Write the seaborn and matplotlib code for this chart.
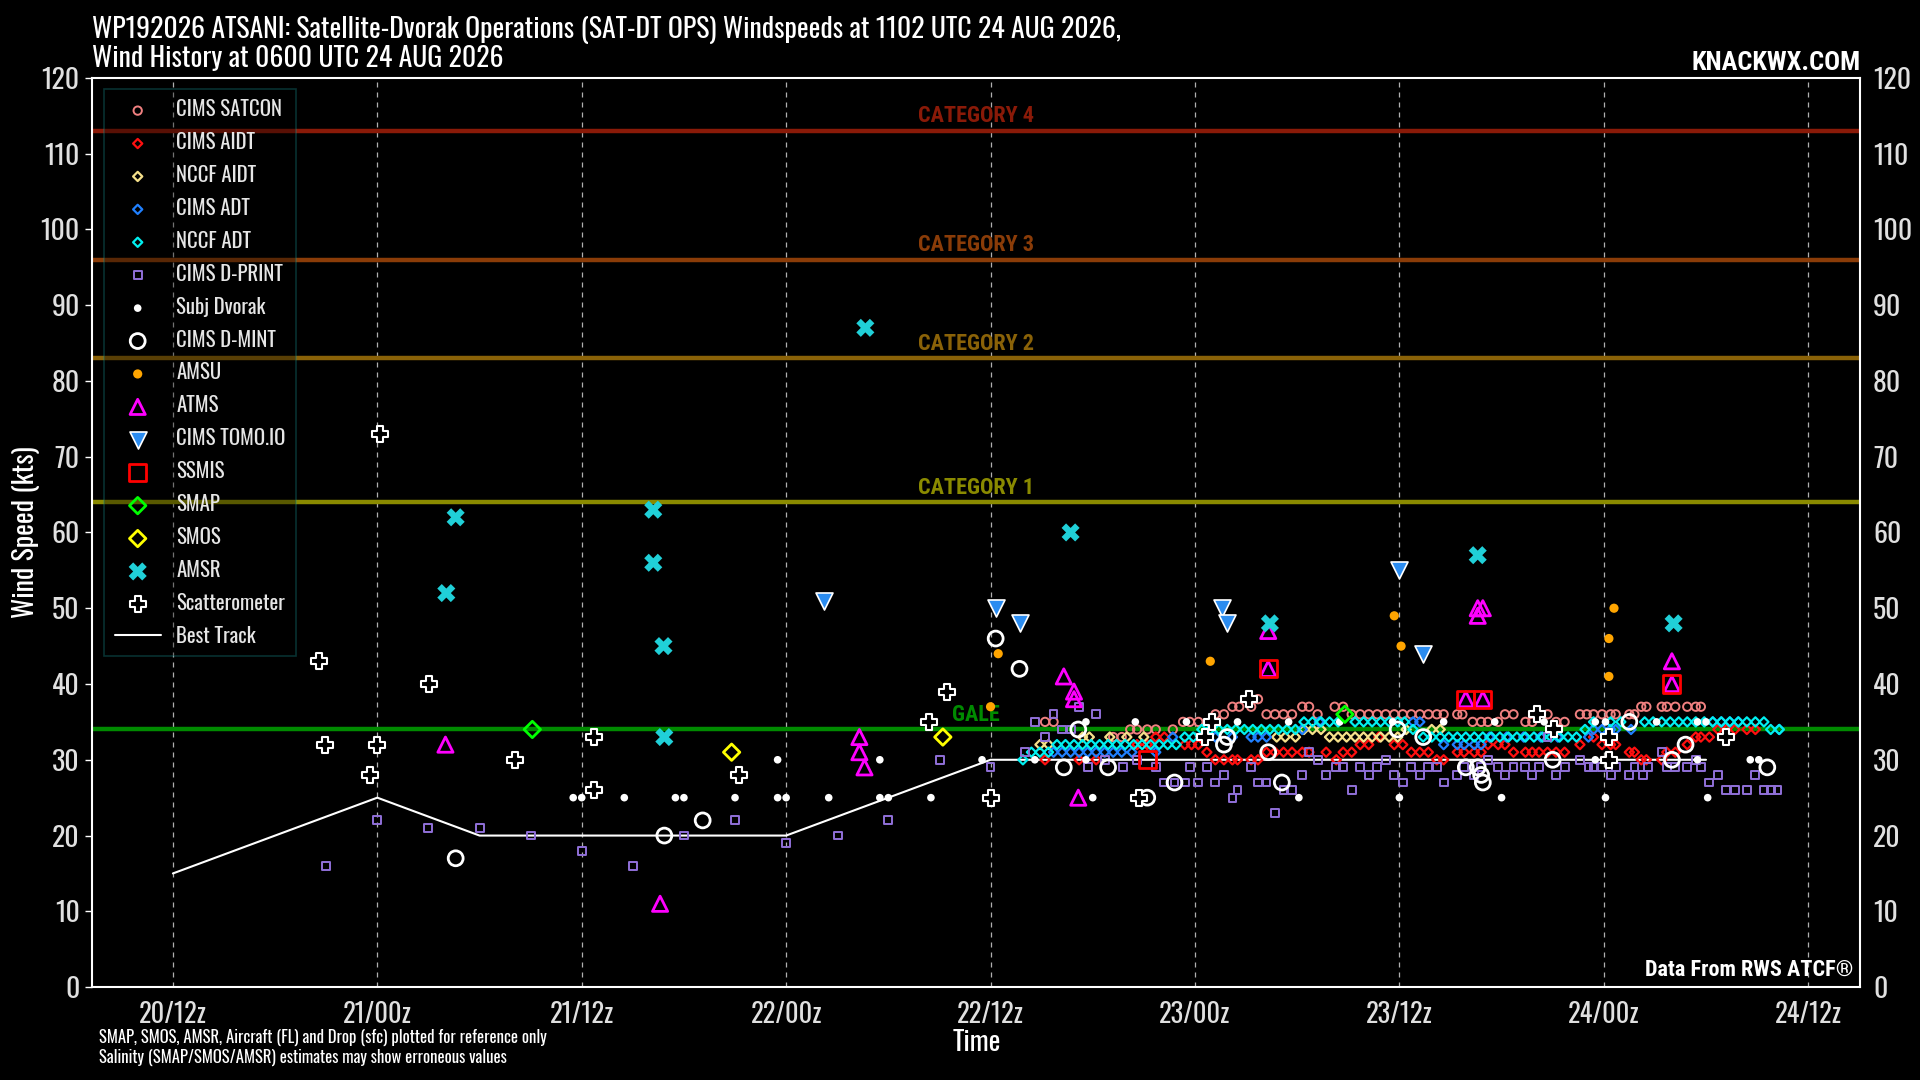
import numpy as np
import pandas as pd
import matplotlib
matplotlib.use("Agg")
import matplotlib.pyplot as plt
import matplotlib.dates as mdates
import matplotlib.transforms as mtransforms
from matplotlib import font_manager as fm
import seaborn as sns

# ---------------- DATA (hours after 20 AUG 2026 12Z, wind kt) ----------------
BASE = "2026-08-20 12:00"

satcon_t = [51.2, 51.7, 55.2, 55.7, 56.2, 56.6, 57.2, 57.7, 58.7, 59.3, 59.7, 60.2, 61.2, 61.7, 62.2, 62.6,
            63.3, 63.7, 64.2, 64.7, 65.2, 65.7, 66.3, 66.7, 67.2, 68.2, 68.7, 69.2, 69.7, 70.2, 70.7, 71.2,
            71.7, 72.2, 72.7, 73.2, 73.7, 74.2, 74.6, 75.4, 75.7, 76.3, 76.8, 77.2, 77.8, 78.2, 78.7, 79.4,
            79.8, 80.7, 81.2, 81.7, 82.6, 83.0, 83.4, 83.9, 84.4, 84.7, 85.5, 85.8, 86.2, 86.5, 87.4, 87.7,
            88.2, 88.9, 89.4, 89.7]
satcon_v = [35, 35, 33, 33, 34, 34, 34, 34, 34, 35, 35, 35, 36, 36, 37, 37,
            37, 38, 36, 36, 36, 36, 37, 37, 36, 37, 37, 36, 36, 36, 36, 36,
            36, 36, 36, 36, 36, 36, 36, 36, 36, 35, 35, 35, 35, 36, 36, 35,
            35, 36, 35, 35, 36, 36, 36, 36, 36, 36, 36, 36, 37, 37, 37, 37,
            37, 37, 37, 37]

cims_aidt_t = [51.2, 53.2, 54.2, 56.6, 57.2, 57.7, 58.2, 59.4, 59.8, 60.2, 60.7, 61.2, 61.7, 62.2, 62.5, 63.3,
               63.7, 64.2, 64.7, 65.2, 65.7, 66.3, 66.7, 67.7, 68.3, 68.7, 69.2, 69.7, 70.2, 70.8, 71.7, 72.2,
               72.7, 73.2, 73.7, 74.2, 74.6, 75.4, 75.8, 76.4, 76.8, 77.2, 77.8, 78.2, 78.7, 79.4, 79.8, 80.2,
               80.7, 81.2, 81.7, 82.6, 83.4, 83.9, 84.4, 84.7, 85.5, 85.8, 86.2, 86.5, 87.4, 87.7, 88.2, 88.9,
               89.4, 89.7, 90.2, 90.7, 91.2, 91.7, 92.4, 92.9]
cims_aidt_v = [30, 30, 30, 32, 32, 33, 33, 32, 32, 32, 31, 30, 30, 30, 30, 30,
               30, 31, 31, 31, 31, 31, 31, 31, 30, 31, 31, 32, 32, 33, 32, 32,
               31, 31, 31, 30, 30, 31, 31, 31, 31, 32, 32, 32, 31, 31, 31, 31,
               31, 31, 31, 32, 33, 32, 32, 32, 31, 31, 30, 30, 30, 31, 31, 32,
               33, 33, 33, 34, 34, 34, 34, 34]

nccf_aidt_t = [50.9, 51.4, 53.4, 53.8, 55.0, 56.0, 57.0, 64.8, 65.3, 65.9, 66.4, 66.9, 67.4, 67.9, 68.4, 68.9,
               69.4, 69.9, 70.4, 70.9, 71.4, 71.9, 72.4, 73.9, 74.4]
nccf_aidt_v = [32, 32, 33, 33, 33, 33, 33, 33, 33, 33, 34, 34, 34, 33, 33, 33,
               33, 33, 33, 33, 33, 33, 34, 34, 34]

cims_adt_t = [51.7, 52.2, 52.7, 53.2, 53.7, 54.2, 54.7, 55.2, 55.7, 56.3, 57.7, 58.7, 61.2, 62.2, 63.3, 63.7,
              64.2, 66.3, 67.3, 72.8, 73.2, 74.6, 75.4, 75.8, 76.4, 76.8, 77.3, 78.3, 79.3, 80.3, 81.3, 83.1,
              83.4, 83.9, 84.4, 84.7, 85.6, 90.4, 90.9, 91.4, 91.9, 94.3]
cims_adt_v = [31, 31, 31, 31, 31, 31, 31, 31, 31, 31, 31, 33, 33, 33, 33, 33,
              33, 34, 35, 35, 35, 32, 32, 32, 32, 32, 33, 33, 33, 33, 33, 33,
              34, 34, 34, 34, 34, 35, 35, 35, 35, 34]

nccf_adt_t = [49.9, 50.4, 50.9, 51.4, 51.9, 52.4, 52.9, 53.4, 53.9, 54.4, 54.9, 55.4, 55.9, 56.4, 56.9, 57.4,
              57.9, 58.4, 58.9, 59.4, 59.9, 60.4, 60.9, 61.4, 61.9, 62.4, 62.9, 63.4, 63.9, 64.4, 64.9, 65.4,
              65.9, 66.4, 66.9, 67.4, 67.9, 68.4, 69.4, 69.9, 70.4, 70.9, 71.4, 71.9, 72.3, 72.8, 73.4, 73.9,
              74.4, 74.9, 75.4, 75.9, 76.4, 76.9, 77.4, 77.9, 78.4, 78.9, 79.4, 79.9, 80.4, 80.9, 81.4, 81.9,
              82.4, 82.9, 83.4, 84.4, 85.0, 86.4, 86.9, 87.4, 87.9, 88.4, 88.9, 89.4, 89.9, 90.4, 90.9, 91.4,
              91.9, 92.4, 92.9, 93.4, 93.8, 94.3]
nccf_adt_v = [30, 31, 31, 31, 32, 32, 32, 32, 32, 32, 32, 32, 32, 32, 32, 32,
              32, 32, 32, 33, 33, 34, 34, 34, 34, 34, 34, 34, 34, 34, 34, 34,
              34, 35, 35, 35, 35, 35, 35, 35, 35, 35, 35, 35, 35, 34, 33, 33,
              33, 33, 33, 33, 33, 33, 33, 33, 33, 33, 33, 33, 33, 33, 33, 33,
              33, 34, 35, 35, 35, 35, 35, 35, 35, 35, 35, 35, 35, 35, 35, 35,
              35, 35, 35, 35, 34, 34]

dprint_t = [9.0, 12.0, 15.0, 18.05, 21.0, 24.0, 27.0, 30.0, 33.0, 36.0, 39.05, 42.0, 45.05, 48.0, 50.0, 50.6,
            51.2, 51.7, 52.2, 52.7, 53.2, 53.7, 54.2, 54.7, 55.8, 56.6, 57.7, 58.2, 58.8, 59.4, 59.7, 60.2,
            60.7, 61.2, 61.7, 62.2, 62.5, 63.3, 63.7, 64.2, 64.7, 65.2, 65.7, 66.3, 66.7, 67.2, 67.7, 68.3,
            68.7, 69.2, 69.7, 70.2, 70.7, 71.2, 71.7, 72.2, 72.7, 73.2, 73.7, 74.2, 74.6, 75.4, 75.8, 76.4,
            76.8, 77.2, 77.8, 78.2, 78.7, 79.4, 79.8, 80.2, 80.7, 81.2, 81.7, 82.6, 83.1, 83.4, 83.9, 84.4,
            84.7, 85.5, 85.8, 86.3, 86.6, 87.4, 87.7, 88.2, 88.9, 89.4, 89.7, 90.2, 90.7, 91.2, 91.7, 92.4,
            92.9, 93.4, 93.8, 94.2]
dprint_v = [16, 22, 21, 21, 20, 18, 16, 20, 22, 19, 20, 22, 30, 29, 31, 35,
            33, 36, 34, 34, 37, 29, 36, 30, 29, 30, 29, 27, 27, 27, 29, 27,
            29, 27, 28, 25, 26, 29, 27, 27, 23, 26, 26, 28, 31, 30, 28, 29,
            29, 26, 29, 28, 29, 30, 28, 27, 29, 28, 29, 29, 27, 28, 29, 28,
            29, 30, 29, 28, 29, 29, 28, 29, 33, 28, 29, 30, 29, 29, 29, 28,
            29, 28, 29, 28, 29, 31, 29, 29, 29, 30, 29, 27, 28, 26, 26, 26,
            28, 26, 26, 26]

subj_t = [23.5, 24.0, 26.5, 29.5, 30.0, 33.0, 35.5, 35.5, 36.0, 38.5, 41.5, 41.5, 42.0, 44.5, 47.5, 50.6,
          53.6, 53.6, 54.0, 56.5, 59.5, 62.5, 65.5, 66.1, 68.5, 71.6, 72.0, 74.6, 77.6, 78.0, 80.5, 83.5,
          83.5, 84.1, 84.1, 87.1, 89.5, 89.5, 90.0, 90.1, 92.6, 93.1]
subj_v = [25, 25, 25, 25, 25, 25, 25, 30, 25, 25, 25, 30, 25, 25, 30, 30,
          30, 35, 25, 35, 35, 35, 35, 25, 35, 35, 25, 35, 35, 25, 35, 35,
          30, 35, 25, 35, 35, 30, 35, 25, 30, 30]

dmint_t = [16.6, 28.85, 31.1, 48.3, 49.7, 52.3, 53.15, 54.9, 57.2, 58.8, 61.7, 61.9, 64.3, 65.1, 71.9, 73.4,
           75.9, 76.6, 76.8, 76.9, 81.0, 85.5, 88.0, 88.8, 93.6]
dmint_v = [17, 20, 22, 46, 42, 29, 34, 29, 25, 27, 32, 33, 31, 27, 34, 33,
           29, 29, 28, 27, 30, 35, 30, 32, 29]

amsu_t = [48.0, 48.45, 60.9, 71.7, 72.1, 84.3, 84.3, 84.6]
amsu_v = [37, 44, 43, 49, 45, 41, 46, 50]

atms_t = [16.0, 28.6, 40.3, 40.3, 40.6, 52.3, 52.9, 52.9, 53.15, 64.3, 64.3, 75.9, 76.6, 76.9, 76.6, 76.9,
          88.0, 88.0]
atms_v = [32, 11, 33, 31, 29, 41, 39, 38, 25, 47, 42, 38, 50, 50, 49, 38,
          43, 40]

tomo_t = [38.2, 48.3, 49.7, 61.6, 61.9, 72.0, 73.4]
tomo_v = [51, 50, 48, 50, 48, 55, 44]

ssmis_t = [57.2, 64.3, 75.9, 76.9, 88.0]
ssmis_v = [30, 42, 38, 38, 40]

smap_t = [21.1, 68.8]
smap_v = [34, 36]

smos_t = [32.8, 45.2]
smos_v = [31, 33]

amsr_t = [16.05, 16.6, 28.2, 28.2, 28.8, 28.85, 40.65, 52.7, 64.4, 76.6, 88.1]
amsr_v = [52, 62, 63, 56, 45, 33, 87, 60, 48, 57, 48]

scat_t = [8.55, 8.9, 11.6, 12.18, 12.0, 15.06, 20.1, 24.7, 24.7, 33.25, 44.4, 45.45, 48.0, 56.7, 61.0, 60.6,
          63.2, 80.1, 81.1, 84.3, 84.3, 91.2]
scat_v = [43, 32, 28, 73, 32, 40, 30, 33, 26, 28, 35, 39, 25, 25, 35, 33,
          38, 36, 34, 33, 30, 33]

best_t = [0, 6, 12, 18, 24, 30, 36, 42, 48, 54, 60, 66, 72, 78, 84, 90]
best_v = [15, 20, 25, 20, 20, 20, 20, 25, 30, 30, 30, 30, 30, 30, 30, 30]

cat_names = ["CATEGORY 4", "CATEGORY 3", "CATEGORY 2", "CATEGORY 1", "GALE"]
cat_values = [113, 96, 83, 64, 34]
cat_colors = ["#8a1a08", "#8a3c08", "#8a6208", "#8a8a00", "#008a00"]

x_range_hours = [-4.74, 99.07]

TITLE_LINES = ["WP192026 ATSANI: Satellite-Dvorak Operations (SAT-DT OPS) Windspeeds at 1102 UTC 24 AUG 2026,",
               "Wind History at 0600 UTC 24 AUG 2026"]
NOTE_LINES = ["SMAP, SMOS, AMSR, Aircraft (FL) and Drop (sfc) plotted for reference only",
              "Salinity (SMAP/SMOS/AMSR) estimates may show erroneous values"]

# ---------------- STYLE ----------------
sns.set_theme(style="dark", rc={
    "figure.facecolor": "black", "axes.facecolor": "black", "savefig.facecolor": "black",
    "axes.edgecolor": "white", "text.color": "white", "axes.labelcolor": "white",
    "xtick.color": "#e0e0e0", "ytick.color": "#e0e0e0", "axes.grid": False,
})

_entries = fm.fontManager.ttflist
_avail = {f.name for f in _entries}


def _wnum(w):
    if isinstance(w, (int, float)):
        return float(w)
    try:
        return float(w)
    except (TypeError, ValueError):
        return float(fm.weight_dict.get(str(w).lower(), 400))


def _has_weight(name, lo, hi):
    return any(f.name == name and lo <= _wnum(f.weight) <= hi for f in _entries)


FONT = "DejaVu Sans"
STRETCH = "normal"
_cands = ["Oswald", "Roboto Condensed", "Open Sans Condensed", "Noto Sans Condensed",
          "Liberation Sans Narrow", "DejaVu Sans Condensed"]
for cand in _cands:
    if cand in _avail:
        FONT = cand
        break

BOLD_FONT = None
for cand in [FONT] + _cands + ["Roboto", "Lato", "Open Sans", "Noto Sans", "Liberation Sans", "DejaVu Sans"]:
    if cand in _avail and _has_weight(cand, 600, 1000):
        BOLD_FONT = cand
        break
if BOLD_FONT is None:
    BOLD_FONT = FONT
LIGHT_W = "light" if _has_weight(FONT, 100, 350) else "normal"

plt.rcParams["font.family"] = [FONT, "DejaVu Sans"]
plt.rcParams["font.stretch"] = STRETCH
BOLD = dict(family=[BOLD_FONT, "DejaVu Sans"], fontweight="bold")
bold_scale = 1.0 if BOLD_FONT in _cands else 0.8


def to_time(hours):
    return pd.Timestamp(BASE) + pd.to_timedelta(np.asarray(hours, dtype=float), unit="h")


fig = plt.figure(figsize=(19.2, 10.8), dpi=100)
ax = fig.add_axes([0.048, 0.086, 0.921, 0.842])

# category lines
trans = mtransforms.blended_transform_factory(ax.transAxes, ax.transData)
for name, val, col in zip(cat_names, cat_values, cat_colors):
    ax.axhline(val, color=col, lw=3.2, zorder=1)
    ax.text(0.5, val + 0.45, name, transform=trans, ha="center", va="bottom", color=col,
            fontsize=16 * bold_scale, zorder=2, **BOLD)

series = [
    ("CIMS SATCON", satcon_t, satcon_v, dict(marker="o", s=36, facecolor="none", edgecolor="#f08080", linewidth=1.4)),
    ("CIMS AIDT", cims_aidt_t, cims_aidt_v, dict(marker="D", s=22, facecolor="none", edgecolor="#ff1010", linewidth=1.6)),
    ("NCCF AIDT", nccf_aidt_t, nccf_aidt_v, dict(marker="D", s=22, facecolor="none", edgecolor="#f5e08a", linewidth=1.6)),
    ("CIMS ADT", cims_adt_t, cims_adt_v, dict(marker="D", s=22, facecolor="none", edgecolor="#2080ff", linewidth=1.6)),
    ("NCCF ADT", nccf_adt_t, nccf_adt_v, dict(marker="D", s=22, facecolor="none", edgecolor="#00f0f0", linewidth=1.6)),
    ("CIMS D-PRINT", dprint_t, dprint_v, dict(marker="s", s=32, facecolor="none", edgecolor="#9070d8", linewidth=1.4)),
    ("Subj Dvorak", subj_t, subj_v, dict(marker="o", s=30, facecolor="white", edgecolor="none", linewidth=0)),
    ("CIMS D-MINT", dmint_t, dmint_v, dict(marker="o", s=115, facecolor="none", edgecolor="white", linewidth=2)),
    ("AMSU", amsu_t, amsu_v, dict(marker="o", s=44, facecolor="#ffa500", edgecolor="none", linewidth=0)),
    ("ATMS", atms_t, atms_v, dict(marker="^", s=120, facecolor="none", edgecolor="#ff00ff", linewidth=2)),
    ("CIMS TOMO.IO", tomo_t, tomo_v, dict(marker="v", s=150, facecolor="#2b8cf0", edgecolor="white", linewidth=1.2)),
    ("SSMIS", ssmis_t, ssmis_v, dict(marker="s", s=150, facecolor="none", edgecolor="#ff0000", linewidth=2)),
    ("SMAP", smap_t, smap_v, dict(marker="D", s=70, facecolor="none", edgecolor="#00ff00", linewidth=2)),
    ("SMOS", smos_t, smos_v, dict(marker="D", s=70, facecolor="none", edgecolor="#ffff00", linewidth=2)),
    ("AMSR", amsr_t, amsr_v, dict(marker="X", s=170, facecolor="#20d0d8", edgecolor="none", linewidth=0)),
    ("Scatterometer", scat_t, scat_v, dict(marker="P", s=130, facecolor="black", edgecolor="white", linewidth=1.5)),
]

for i, (label, t, v, kw) in enumerate(series):
    sns.scatterplot(x=to_time(t), y=np.asarray(v, dtype=float), ax=ax, label=label,
                    zorder=5 + i * 0.1, legend=False, **kw)

sns.lineplot(x=to_time(best_t), y=np.asarray(best_v, dtype=float), ax=ax, color="white",
             lw=1.5, label="Best Track", zorder=4, legend=False)

ax.set_xlim(to_time([x_range_hours[0]])[0], to_time([x_range_hours[1]])[0])
ax.set_ylim(0, 120)
ax.set_yticks(np.arange(0, 121, 10))
ax.xaxis.set_major_locator(mdates.HourLocator(byhour=[0, 12]))
ax.xaxis.set_major_formatter(mdates.DateFormatter("%d/%Hz"))
ax.grid(axis="x", color="#b0b0b0", linestyle=(0, (4, 4)), lw=0.9, zorder=0)
ax.grid(axis="y", visible=False)
ax.tick_params(axis="x", length=0, labelsize=19, pad=10)
ax.tick_params(axis="y", length=5, width=1, color="white", direction="out", labelsize=20, pad=4, left=True)
for lab in ax.get_xticklabels() + ax.get_yticklabels():
    lab.set_fontweight(LIGHT_W)
for sp in ax.spines.values():
    sp.set_color("white")
    sp.set_linewidth(1.5)
ax.set_xlabel("Time", fontsize=20, labelpad=1)
ax.set_ylabel("Wind Speed (kts)", fontsize=20, labelpad=0)

ax2 = ax.twinx()
ax2.set_ylim(0, 120)
ax2.set_yticks(np.arange(0, 121, 10))
ax2.tick_params(axis="y", length=0, labelsize=20, pad=9, colors="#e0e0e0")
for lab in ax2.get_yticklabels():
    lab.set_fontweight(LIGHT_W)
ax2.grid(False)
for sp in ax2.spines.values():
    sp.set_visible(False)

leg = ax.legend(loc="upper left", bbox_to_anchor=(0.0069, 0.988), borderaxespad=0, fontsize=15,
                frameon=True, fancybox=False, edgecolor="#158c8c", facecolor="black", framealpha=0.35,
                labelspacing=0.62, handlelength=2.2, handletextpad=0.75, borderpad=0.5, scatterpoints=1)
leg.get_frame().set_linewidth(1.2)
for txt in leg.get_texts():
    txt.set_color("#e6e6e6")
    txt.set_fontweight(LIGHT_W)
leg.set_zorder(3)

fig.text(0.048, 1 - 38 / 1080, TITLE_LINES[0], ha="left", va="baseline", fontsize=20, color="white")
fig.text(0.048, 1 - 67 / 1080, TITLE_LINES[1], ha="left", va="baseline", fontsize=20, color="white")
fig.text(0.969, 1 - 70 / 1080, "KNACKWX.COM", ha="right", va="baseline", fontsize=19 * bold_scale,
         color="white", **BOLD)
fig.text(1853 / 1920, 1 - 976 / 1080, "Data From RWS ATCF\u00ae", ha="right", va="baseline",
         fontsize=16 * bold_scale, color="white", zorder=10, **BOLD)
fig.text(0.0515, 1 - 1043 / 1080, NOTE_LINES[0], ha="left", va="baseline", fontsize=12, color="white")
fig.text(0.0515, 1 - 1063 / 1080, NOTE_LINES[1], ha="left", va="baseline", fontsize=12, color="white")

fig.savefig("out.png", dpi=100, facecolor="black")
